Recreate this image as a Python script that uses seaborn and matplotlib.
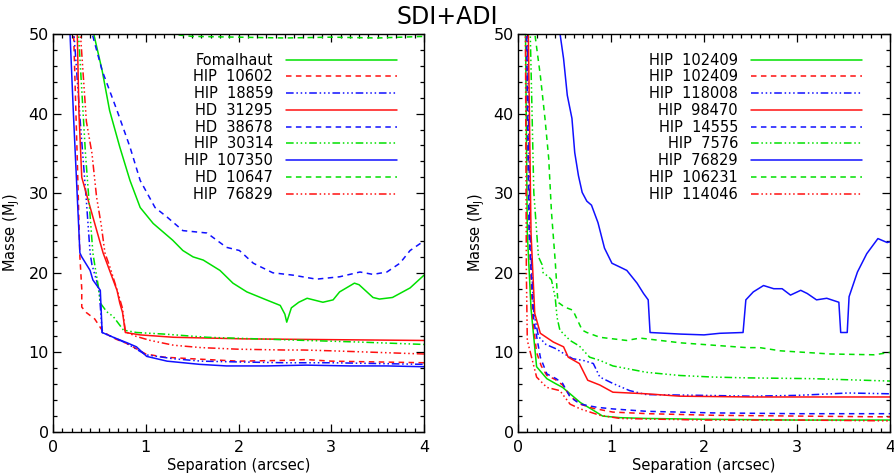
import matplotlib
matplotlib.use("Agg")
import matplotlib.pyplot as plt
import seaborn as sns
import pandas as pd
from matplotlib.ticker import MultipleLocator

sns.set_style("ticks")
plt.rcParams['font.family'] = ['DejaVu Sans']
plt.rcParams['text.color'] = 'black'
plt.rcParams['axes.labelcolor'] = 'black'
plt.rcParams['xtick.color'] = 'black'
plt.rcParams['ytick.color'] = 'black'

GREEN = "#00e000"
RED = "#ff1010"
BLUE = "#1010ff"

SOLID = "-"
DASHED = (0, (3.6, 2.9))
DASHDOT3 = (0, (5, 1.8, 1, 1.8, 1, 1.8, 1, 1.8))

# ---------------- left panel ----------------
left_names = ["Fomalhaut", "HIP  10602", "HIP  18859", "HD  31295", "HD  38678",
              "HIP  30314", "HIP  107350", "HD  10647", "HIP  76829"]
left_colors = [GREEN, RED, BLUE, RED, BLUE, GREEN, BLUE, GREEN, RED]
left_styles = [SOLID, DASHED, DASHDOT3, SOLID, DASHED, DASHDOT3, SOLID, DASHED, DASHDOT3]

fomalhaut_x = [0.42, 0.53, 0.61, 0.72, 0.83, 0.94, 1.08, 1.29, 1.40, 1.51, 1.62, 1.80, 1.94, 2.09,
               2.30, 2.45, 2.50, 2.52, 2.57, 2.65, 2.74, 2.91, 3.02, 3.09, 3.25, 3.30, 3.45, 3.52,
               3.66, 3.85, 4.0]
fomalhaut_y = [51, 45.4, 40.4, 35.8, 31.6, 28.2, 26.2, 24.1, 22.8, 22.0, 21.6, 20.3, 18.7, 17.6,
               16.6, 15.9, 14.8, 13.8, 15.6, 16.3, 16.8, 16.3, 16.6, 17.6, 18.7, 18.5, 16.9, 16.7,
               16.9, 18.1, 19.7]
hip10602_x = [0.22, 0.26, 0.29, 0.31, 0.31, 0.36, 0.45, 0.54, 0.65, 0.80, 1.0, 1.2, 1.5, 2.0, 2.5,
              2.73, 3.0, 3.5, 4.0]
hip10602_y = [51, 35, 22, 18, 15.7, 15.0, 14.2, 12.6, 11.8, 11.1, 9.8, 9.4, 9.2, 8.9, 9.0,
              9.1, 8.9, 8.8, 8.7]
hip18859_x = [0.22, 0.30, 0.36, 0.40, 0.42, 0.47, 0.50, 0.53, 0.65, 0.80, 1.0, 1.3, 1.6, 2.0, 2.5,
              3.0, 3.5, 4.0]
hip18859_y = [51, 38, 29, 22.5, 21, 19, 17.5, 12.5, 11.9, 11.1, 9.7, 9.2, 8.9, 8.8, 8.7,
              8.7, 8.6, 8.5]
hd31295_x = [0.26, 0.28, 0.31, 0.37, 0.44, 0.54, 0.61, 0.69, 0.72, 0.75, 0.78, 0.94, 1.3, 2.07,
             3.0, 4.0]
hd31295_y = [51, 40, 32, 29.5, 26.6, 22.5, 20.3, 17.8, 16.2, 15.0, 12.5, 12.2, 11.9, 11.7,
             11.6, 11.5]
hd38678_x = [0.40, 0.53, 0.69, 0.83, 0.94, 1.10, 1.23, 1.40, 1.66, 1.87, 2.01, 2.16, 2.37, 2.59,
             2.84, 3.09, 3.31, 3.45, 3.60, 3.74, 3.85, 4.0]
hd38678_y = [51, 45.4, 40.4, 35.8, 31.6, 28.2, 27.0, 25.3, 25.0, 23.2, 22.8, 21.2, 20.0, 19.7,
             19.2, 19.5, 20.1, 19.8, 20.1, 21.2, 22.8, 24.0]
hip30314_x = [0.27, 0.35, 0.43, 0.45, 0.49, 0.51, 0.58, 0.65, 0.76, 0.9, 1.2, 1.66, 2.2, 2.73,
              3.3, 4.0]
hip30314_y = [51, 35, 22.5, 21, 18.2, 16.2, 15.1, 14.5, 12.8, 12.5, 12.3, 11.9, 11.7, 11.5,
              11.3, 11.0]
hip107350_x = [0.18, 0.22, 0.26, 0.29, 0.31, 0.40, 0.43, 0.51, 0.53, 0.65, 0.80, 0.90, 1.01, 1.23,
               1.58, 1.87, 2.3, 2.73, 3.2, 3.6, 4.0]
hip107350_y = [51, 40, 30, 22.5, 22.0, 20.3, 19.1, 17.8, 12.5, 11.9, 11.2, 10.7, 9.5, 8.9,
               8.5, 8.3, 8.3, 8.4, 8.3, 8.3, 8.2]
hd10647_x = [0.3, 0.6, 1.0, 1.26, 1.5, 2.0, 2.5, 3.0, 3.5, 4.0]
hd10647_y = [90, 70, 55, 50.0, 49.7, 49.6, 49.5, 49.6, 49.5, 49.7]
hip76829a_x = [0.29, 0.36, 0.42, 0.47, 0.52, 0.56, 0.62, 0.70, 0.75, 0.78, 0.9, 1.05, 1.3, 1.6,
               2.0, 2.5, 2.7, 3.0, 3.5, 4.0]
hip76829a_y = [51, 39, 35, 29.5, 26, 22.5, 20.5, 17.5, 15.5, 12.6, 12.0, 11.5, 10.9, 10.6,
               10.4, 10.3, 10.3, 10.2, 10.0, 9.8]

left_x = [fomalhaut_x, hip10602_x, hip18859_x, hd31295_x, hd38678_x, hip30314_x, hip107350_x,
          hd10647_x, hip76829a_x]
left_y = [fomalhaut_y, hip10602_y, hip18859_y, hd31295_y, hd38678_y, hip30314_y, hip107350_y,
          hd10647_y, hip76829a_y]

# ---------------- right panel ----------------
right_names = ["HIP  102409", "HIP  102409", "HIP  118008", "HIP  98470", "HIP  14555",
               "HIP  7576", "HIP  76829", "HIP  106231", "HIP  114046"]
right_colors = [GREEN, RED, BLUE, RED, BLUE, GREEN, BLUE, GREEN, RED]
right_styles = [SOLID, DASHED, DASHDOT3, SOLID, DASHED, DASHDOT3, SOLID, DASHED, DASHDOT3]

hip102409g_x = [0.08, 0.10, 0.14, 0.20, 0.31, 0.40, 0.48, 0.58, 0.67, 0.80, 0.91, 1.1, 1.38, 2.0,
                3.0, 4.0]
hip102409g_y = [51, 25, 15.5, 8.2, 6.7, 6.1, 5.6, 4.6, 3.7, 2.8, 2.0, 1.8, 1.7, 1.6, 1.5, 1.5]
hip102409r_x = [0.09, 0.12, 0.16, 0.20, 0.25, 0.31, 0.40, 0.48, 0.56, 0.67, 0.80, 1.02, 1.4, 2.1,
                3.0, 4.0]
hip102409r_y = [51, 25, 14, 10, 8.3, 7.1, 6.6, 5.9, 4.5, 3.5, 3.0, 2.5, 2.3, 2.1, 2.0, 1.9]
hip118008_x = [0.10, 0.13, 0.17, 0.22, 0.30, 0.40, 0.50, 0.59, 0.70, 0.81, 0.88, 1.02, 1.2, 1.38,
               2.0, 2.5, 3.0, 3.55, 4.0]
hip118008_y = [51, 25, 15, 12, 11.0, 10.5, 9.8, 9.2, 9.0, 8.6, 6.9, 6.1, 5.2, 4.7, 4.6, 4.5,
               4.6, 4.9, 4.8]
hip98470_x = [0.11, 0.14, 0.18, 0.24, 0.38, 0.49, 0.54, 0.66, 0.75, 0.88, 1.02, 1.38, 1.74, 2.5,
              3.0, 4.0]
hip98470_y = [51, 25, 14.9, 12.4, 11.3, 10.7, 9.4, 8.6, 6.5, 5.9, 5.0, 4.8, 4.5, 4.4, 4.4, 4.4]
hip14555_x = [0.09, 0.12, 0.17, 0.24, 0.31, 0.41, 0.48, 0.56, 0.67, 0.85, 1.02, 1.38, 2.1, 3.0,
              4.0]
hip14555_y = [51, 25, 14, 9.4, 7.3, 6.7, 6.1, 4.4, 3.5, 3.1, 2.9, 2.6, 2.4, 2.3, 2.3]
hip7576_x = [0.13, 0.15, 0.17, 0.22, 0.26, 0.27, 0.33, 0.36, 0.40, 0.42, 0.45, 0.56, 0.66, 0.77,
             0.88, 1.02, 1.38, 1.74, 2.1, 2.46, 3.17, 4.0]
hip7576_y = [51, 40.6, 30.1, 22, 21, 20, 19.5, 19.1, 16.9, 14.4, 12.8, 11.5, 10.8, 9.4,
             9.0, 8.3, 7.5, 7.1, 6.9, 6.8, 6.7, 6.4]
hip76829b_x = [0.44, 0.49, 0.53, 0.58, 0.61, 0.65, 0.69, 0.74, 0.79, 0.86, 0.93, 1.01, 1.10, 1.17,
               1.28, 1.35, 1.40, 1.42, 1.75, 2.0, 2.17, 2.42, 2.45, 2.53, 2.64, 2.75, 2.84, 2.93,
               3.04, 3.11, 3.21, 3.32, 3.45, 3.47, 3.54, 3.56, 3.65, 3.75, 3.87, 3.97, 4.0]
hip76829b_y = [51, 46.9, 42.3, 39.4, 35.1, 32.2, 30.1, 29.0, 28.5, 26.3, 23.1, 21.2, 20.7, 20.3,
               18.7, 17.4, 16.6, 12.5, 12.3, 12.2, 12.4, 12.5, 16.6, 17.6, 18.4, 18.0, 18.0, 17.2,
               17.8, 17.4, 16.6, 16.8, 16.3, 12.5, 12.5, 17.0, 20.1, 22.4, 24.3, 23.8, 23.9]
hip106231_x = [0.17, 0.24, 0.29, 0.33, 0.36, 0.40, 0.42, 0.43, 0.50, 0.59, 0.69, 0.74, 0.88, 0.95,
               1.17, 1.31, 1.75, 2.46, 2.6, 2.82, 3.36, 3.83, 4.0]
hip106231_y = [51, 44.8, 39.4, 34.4, 27.6, 21.5, 17.8, 16.3, 15.7, 15.3, 12.8, 12.5, 11.9, 11.8,
               11.5, 11.8, 11.2, 10.6, 10.6, 10.2, 9.8, 9.7, 10.0]
hip114046_x = [0.08, 0.09, 0.10, 0.20, 0.31, 0.45, 0.56, 0.67, 0.88, 1.1, 2.0, 3.0, 4.0]
hip114046_y = [51, 20, 11.5, 6.9, 5.6, 5.2, 3.5, 2.9, 2.1, 1.7, 1.5, 1.5, 1.4]

right_x = [hip102409g_x, hip102409r_x, hip118008_x, hip98470_x, hip14555_x, hip7576_x,
           hip76829b_x, hip106231_x, hip114046_x]
right_y = [hip102409g_y, hip102409r_y, hip118008_y, hip98470_y, hip14555_y, hip7576_y,
           hip76829b_y, hip106231_y, hip114046_y]

x_ticks = [0, 1, 2, 3, 4]
y_ticks = [0, 10, 20, 30, 40, 50]

W, H = 894, 474
fig = plt.figure(figsize=(W / 100, H / 100), dpi=100)
ax_l = fig.add_axes([53 / W, 1 - 432 / H, 371 / W, 398 / H])
ax_r = fig.add_axes([518 / W, 1 - 432 / H, 372 / W, 398 / H])


def draw(ax, names, colors, styles, xs, ys, leg_x):
    for name, c, ls, x, y in zip(names, colors, styles, xs, ys):
        df = pd.DataFrame({"sep": x, "mass": y})
        sns.lineplot(data=df, x="sep", y="mass", ax=ax, estimator=None, sort=False,
                     color=c, linestyle=ls, linewidth=1.1, label=name)
    ax.set_xlim(0, 4)
    ax.set_ylim(0, 50)
    ax.set_xticks(x_ticks)
    ax.set_yticks(y_ticks)
    ax.xaxis.set_minor_locator(MultipleLocator(0.1))
    ax.yaxis.set_minor_locator(MultipleLocator(2))
    ax.tick_params(which="both", direction="in", top=True, right=True, colors="black",
                   width=0.9, labelsize=11.5)
    ax.tick_params(which="major", length=6)
    ax.tick_params(which="minor", length=3)
    ax.tick_params(axis="x", which="major", pad=6)
    ax.tick_params(axis="y", which="major", pad=3)
    for s in ax.spines.values():
        s.set_visible(True)
        s.set_linewidth(1.0)
        s.set_color("black")
    ax.set_xlabel("Separation (arcsec)", fontsize=10.5, labelpad=2, color="black")
    ax.set_ylabel(r"Masse (M$_\mathregular{J}$)", fontsize=10.5, labelpad=5, color="black")
    leg = ax.legend(loc="upper right", bbox_to_anchor=(leg_x, 0.953), frameon=False,
                    markerfirst=False, fontsize=10.5, handlelength=7.6, handletextpad=0.9,
                    labelspacing=0.12, borderpad=0, borderaxespad=0, labelcolor="black")
    try:
        for col in leg._legend_handle_box.get_children():
            col.align = "right"
    except Exception:
        pass


draw(ax_l, left_names, left_colors, left_styles, left_x, left_y, (397 - 53) / 371)
draw(ax_r, right_names, right_colors, right_styles, right_x, right_y, (862 - 518) / 372)

fig.text(447 / W, 1 - 17 / H, "SDI+ADI", ha="center", va="center", fontsize=17, color="black")

fig.savefig("out.png", dpi=100)
